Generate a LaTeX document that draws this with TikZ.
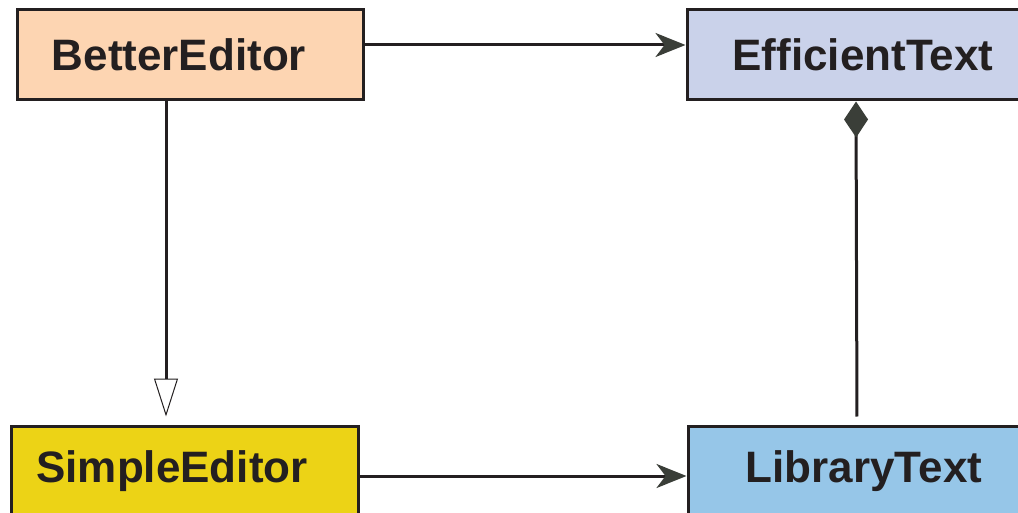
\documentclass[tikz,border=0pt]{standalone}
\usepackage{fontspec}
\setmainfont{Liberation Sans}
\usetikzlibrary{arrows.meta}
\definecolor{ink}{HTML}{231F20}
\definecolor{tipgray}{HTML}{3A3E38}
\definecolor{peach}{HTML}{FDD5B2}
\definecolor{lavender}{HTML}{CAD2EA}
\definecolor{mustard}{HTML}{ECD316}
\definecolor{skyblue}{HTML}{96C6E8}
\tikzset{
  classbox/.style={draw=ink, line width=3pt, minimum height=90pt, inner sep=0pt,
    text=ink, font=\fontsize{44}{50}\selectfont\bfseries},
  link/.style={draw=ink, line width=3pt}
}
\begin{document}
\begin{tikzpicture}[x=1pt, y=-1pt]
\useasboundingbox (0,0) rectangle (1018,513);
\node[classbox, fill=peach, minimum width=346pt] (better) at (190,55) {BetterEditor\hspace*{22pt}};
\node[classbox, fill=lavender, minimum width=352pt] (efficient) at (863,55) {EfficientText};
\node[classbox, fill=mustard, minimum width=347pt] (simple) at (185,471) {SimpleEditor\hspace*{26pt}};
\node[classbox, fill=skyblue, minimum width=352pt] (library) at (864,471) {LibraryText};
\draw[link, -{Stealth[length=30pt, width=24pt, inset=9pt, fill=tipgray, color=tipgray]}]
  ([yshift=10pt]better.east) -- ([yshift=10pt]efficient.west);
\draw[link, -{Stealth[length=30pt, width=24pt, inset=9pt, fill=tipgray, color=tipgray]}]
  ([yshift=-5pt]simple.east) -- ([yshift=-5pt]library.west);
\draw[link, shorten >=8pt, -{Triangle[open, length=38pt, width=24pt, line width=1pt, fill=white]}]
  ([xshift=-24pt]better.south) -- ([xshift=-24pt]better.south |- simple.north);
\draw[link, shorten >=8pt, {Diamond[length=36pt, width=24pt, fill=tipgray, color=tipgray]}-]
  ([xshift=-7pt]efficient.south) -- ([xshift=-7pt]library.north);
\end{tikzpicture}
\end{document}
